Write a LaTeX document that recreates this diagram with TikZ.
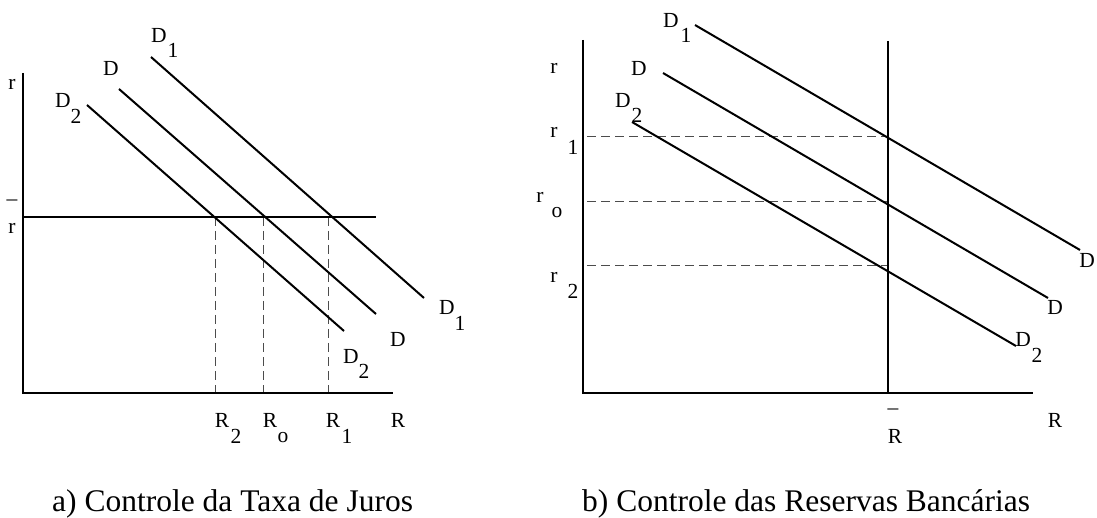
\documentclass[tikz,border=0pt]{standalone}
\usepackage{fontspec}
\setmainfont{Liberation Serif}
\begin{document}
\begin{tikzpicture}[x=1pt,y=-1pt,
  ax/.style={line width=2pt},
  dline/.style={line width=2pt},
  guide/.style={line width=1pt, draw=black!70, dash pattern=on 9pt off 5pt},
  lab/.style={inner sep=0pt, font=\fontsize{21.5}{21.5}\selectfont},
  captxt/.style={inner sep=0pt, font=\fontsize{31.5}{31.5}\selectfont, anchor=base west}]
\useasboundingbox (0,0) rectangle (1097,518);

% ---------- left panel ----------
\coordinate (aTop) at (23,73);
\coordinate (aO) at (23,393);
\coordinate (aEnd) at (393,393);
\coordinate (aRb0) at (23,217);
\coordinate (aRb1) at (376,217);
\coordinate (aD1s) at (151,57);  \coordinate (aD1e) at (424,298);
\coordinate (aDs) at (119,89);   \coordinate (aDe) at (376,314);
\coordinate (aD2s) at (87,105);  \coordinate (aD2e) at (344,331);
\coordinate (aV2t) at (215,217); \coordinate (aV2b) at (215,393);
\coordinate (aV0t) at (263,217); \coordinate (aV0b) at (263,393);
\coordinate (aV1t) at (328,217); \coordinate (aV1b) at (328,393);

\draw[guide] (aV2t) -- (aV2b);
\draw[guide] (aV0t) -- (aV0b);
\draw[guide] (aV1t) -- (aV1b);
\draw[ax] (aTop) -- (aO) -- (aEnd);
\draw[ax] (aRb0) -- (aRb1);
\draw[dline] (aD1s) -- (aD1e);
\draw[dline] (aDs) -- (aDe);
\draw[dline] (aD2s) -- (aD2e);

\node[lab] (ar) at (12,84) {r};
\node[lab] (arbar) at (12,203) {–};
\node[lab] (arb) at (12,228) {r};
\node[lab] (aD1t) at (159,35) {D};
\node[lab] (aD1ts) at (173,50) {1};
\node[lab] (aDt) at (111,68) {D};
\node[lab] (aD2t) at (63,100) {D};
\node[lab] (aD2ts) at (76,116) {2};
\node[lab] (aD1r) at (447,307) {D};
\node[lab] (aD1rs) at (460,323) {1};
\node[lab] (aDr) at (398,339) {D};
\node[lab] (aD2r) at (351,356) {D};
\node[lab] (aD2rs) at (364,371) {2};
\node[lab] (aR2) at (222,420) {R};
\node[lab] (aR2s) at (236,436) {2};
\node[lab] (aR0) at (270,420) {R};
\node[lab] (aR0s) at (283,438) {o};
\node[lab] (aR1) at (333,420) {R};
\node[lab] (aR1s) at (347,436) {1};
\node[lab] (aR) at (398,420) {R};

% ---------- right panel ----------
\coordinate (bTop) at (583,40);
\coordinate (bO) at (583,393);
\coordinate (bEnd) at (1033,393);
\coordinate (bRt) at (888,41);
\coordinate (bRb) at (888,393);
\coordinate (bD1s) at (695,25);  \coordinate (bD1e) at (1080,250);
\coordinate (bDs) at (663,73);   \coordinate (bDe) at (1048,298);
\coordinate (bD2s) at (632,122); \coordinate (bD2e) at (1016,346);
\coordinate (bH1l) at (587,137); \coordinate (bH1r) at (888,137);
\coordinate (bH0l) at (587,202); \coordinate (bH0r) at (888,202);
\coordinate (bH2l) at (587,266); \coordinate (bH2r) at (888,266);

\draw[guide] (bH1l) -- (bH1r);
\draw[guide] (bH0l) -- (bH0r);
\draw[guide] (bH2l) -- (bH2r);
\draw[ax] (bTop) -- (bO) -- (bEnd);
\draw[ax] (bRt) -- (bRb);
\draw[dline] (bD1s) -- (bD1e);
\draw[dline] (bDs) -- (bDe);
\draw[dline] (bD2s) -- (bD2e);

\node[lab] (br) at (554,68) {r};
\node[lab] (br1) at (554,132) {r};
\node[lab] (br1s) at (573,147) {1};
\node[lab] (br0) at (540,197) {r};
\node[lab] (br0s) at (557,213) {o};
\node[lab] (br2) at (554,277) {r};
\node[lab] (br2s) at (573,291) {2};
\node[lab] (bD1t) at (671,20) {D};
\node[lab] (bD1ts) at (686,35) {1};
\node[lab] (bDt) at (639,68) {D};
\node[lab] (bD2t) at (623,100) {D};
\node[lab] (bD2ts) at (637,115) {2};
\node[lab] (bD1r) at (1087,260) {D};
\node[lab] (bDr) at (1055,307) {D};
\node[lab] (bD2r) at (1023,339) {D};
\node[lab] (bD2rs) at (1037,355) {2};
\node[lab] (bRbar) at (893,412) {–};
\node[lab] (bRbl) at (895,436) {R};
\node[lab] (bR) at (1055,420) {R};

% ---------- captions ----------
\node[captxt] (capa) at (52,511) {a) Controle da Taxa de Juros};
\node[captxt] (capb) at (582,511) {b) Controle das Reservas Bancárias};
\end{tikzpicture}
\end{document}
